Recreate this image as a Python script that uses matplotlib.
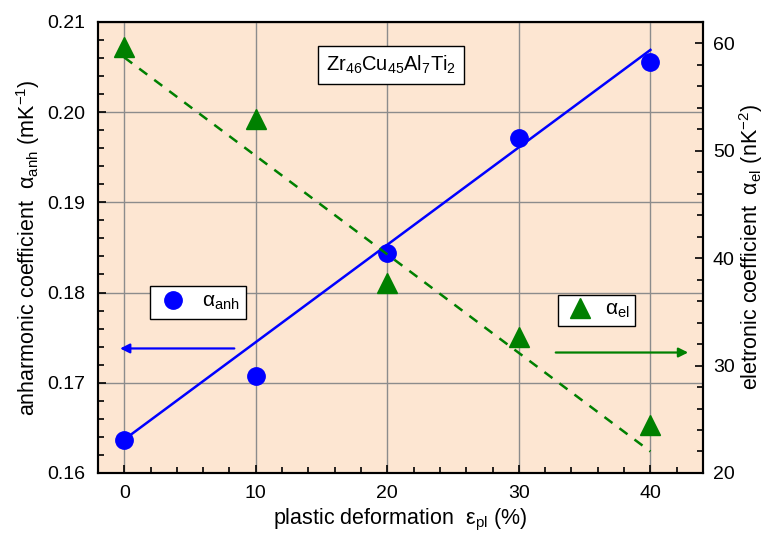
import matplotlib
matplotlib.use('Agg')
import matplotlib.pyplot as plt
from matplotlib.ticker import MultipleLocator
from matplotlib.lines import Line2D

plt.rcParams['font.family'] = ['Liberation Sans', 'DejaVu Sans']
plt.rcParams['mathtext.fontset'] = 'custom'
plt.rcParams['mathtext.rm'] = 'Liberation Sans'
plt.rcParams['mathtext.it'] = 'Liberation Sans:italic'

# data
strain = [0, 10, 20, 30, 40]
alpha_anh = [0.1637, 0.1708, 0.1844, 0.1971, 0.2056]
alpha_el = [59.7, 53.0, 37.7, 32.7, 24.5]

fit_x = [0, 40]
anh_fit = [0.1637, 0.2069]
el_fit = [58.7, 22.0]

fig = plt.figure(figsize=(7.65, 5.35), dpi=100)
ax = fig.add_axes([0.128, 0.116, 0.791, 0.843])
ax.set_facecolor('#fde6d2')
ax2 = ax.twinx()

ax.plot(fit_x, anh_fit, color='blue', lw=1.8, zorder=3)
ax.plot(strain, alpha_anh, 'o', color='blue', ms=12.5, zorder=4)
ax2.plot(fit_x, el_fit, '--', color='green', lw=1.8, dashes=(4, 3.5))
ax2.plot(strain, alpha_el, '^', color='green', ms=14)

ax.set_xlim(-2, 44)
ax.set_ylim(0.16, 0.21)
ax2.set_ylim(20, 62)

ax.xaxis.set_major_locator(MultipleLocator(10))
ax.xaxis.set_minor_locator(MultipleLocator(2))
ax.yaxis.set_minor_locator(MultipleLocator(0.002))
ax2.yaxis.set_major_locator(MultipleLocator(10))
ax2.yaxis.set_minor_locator(MultipleLocator(2))
ax.set_yticks([0.16, 0.17, 0.18, 0.19, 0.20, 0.21])
ax.set_yticklabels(['0.16', '0.17', '0.18', '0.19', '0.20', '0.21'])

ax.grid(True, which='major', color='#8c8c8c', lw=1.0)
ax.set_axisbelow(True)

for a in (ax, ax2):
    for s in a.spines.values():
        s.set_linewidth(1.5)
ax.tick_params(which='both', direction='in', top=False, right=False, labelsize=14, width=1.2)
ax.tick_params(which='major', length=6, pad=9)
ax.tick_params(which='minor', length=4)
ax2.tick_params(which='both', direction='in', labelsize=14, width=1.2)
ax2.tick_params(which='major', length=6, pad=7)
ax2.tick_params(which='minor', length=4)

ax.set_xlabel(r'plastic deformation  ε$_{\mathrm{pl}}$ (%)', fontsize=15.5, labelpad=3)
ax.set_ylabel(r'anharmonic coefficient  α$_{\mathrm{anh}}$ (mK$^{\mathrm{-1}}$)', fontsize=15.5, labelpad=4)
ax2.set_ylabel(r'eletronic coefficient  α$_{\mathrm{el}}$ (nK$^{\mathrm{-2}}$)', fontsize=15.5, labelpad=2)

ax.text(0.484, 0.905, r'Zr$_{46}$Cu$_{45}$Al$_{7}$Ti$_{2}$', transform=ax.transAxes,
        fontsize=14.5, ha='center', va='center',
        bbox=dict(boxstyle='square,pad=0.4', fc='white', ec='black', lw=1.0))

h1 = Line2D([], [], marker='o', ls='none', color='blue', ms=12.5)
h2 = Line2D([], [], marker='^', ls='none', color='green', ms=14)
leg1 = ax2.legend([h1], [r'α$_{\mathrm{anh}}$'], loc='upper left',
                  bbox_to_anchor=(0.086, 0.415), fontsize=15, fancybox=False,
                  edgecolor='black', framealpha=1, borderpad=0.3, borderaxespad=0,
                  handlelength=1.6, handletextpad=0.6)
leg1.get_frame().set_linewidth(1.0)
ax2.add_artist(leg1)
leg2 = ax2.legend([h2], [r'α$_{\mathrm{el}}$'], loc='upper left',
                  bbox_to_anchor=(0.76, 0.395), fontsize=15, fancybox=False,
                  edgecolor='black', framealpha=1, borderpad=0.25, borderaxespad=0,
                  handlelength=1.6, handletextpad=0.4)
leg2.get_frame().set_linewidth(1.0)

ax.annotate('', xy=(0.032, 0.276), xytext=(0.23, 0.276), xycoords='axes fraction',
            arrowprops=dict(arrowstyle='-|>', color='blue', lw=1.6, mutation_scale=14))
ax.annotate('', xy=(0.98, 0.267), xytext=(0.752, 0.267), xycoords='axes fraction',
            arrowprops=dict(arrowstyle='-|>', color='green', lw=1.6, mutation_scale=14))

fig.savefig('out.png', dpi=100)
